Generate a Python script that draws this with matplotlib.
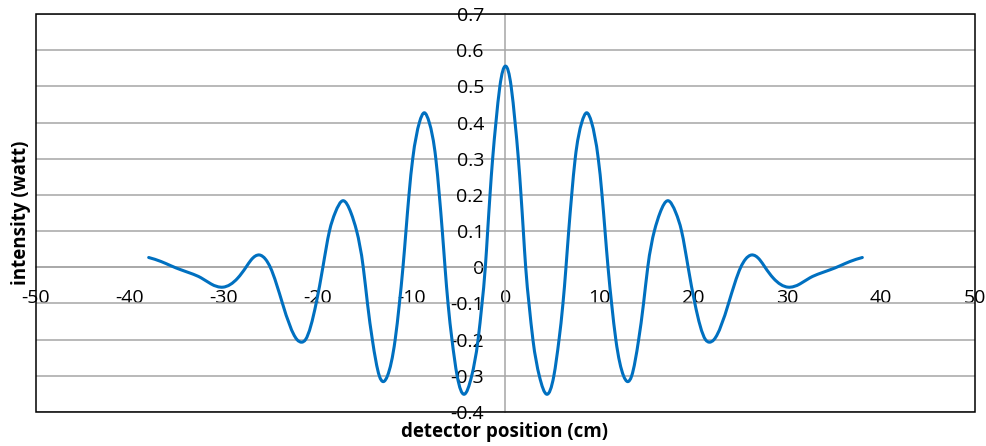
import numpy as np
import matplotlib
matplotlib.use("Agg")
import matplotlib.pyplot as plt
from matplotlib.path import Path
from matplotlib.patches import PathPatch, Rectangle

plt.rcParams["font.family"] = ["Open Sans", "DejaVu Sans"]
plt.rcParams["axes.unicode_minus"] = False

# detector position (cm) and measured intensity (watt)
positions = [
    -38.00, -36.69, -35.62, -34.56, -33.49, -32.43, -31.36, -30.10, -28.52, -27.64,
    -27.10, -26.20, -25.55, -25.05, -23.75, -22.20, -21.70, -21.30, -20.17, -19.45,
    -18.75, -18.15, -17.30, -16.45, -15.85, -15.15, -14.70, -14.18, -13.44, -13.00,
    -12.57, -11.75, -11.30, -10.92, -10.60, -10.28, -9.88, -9.17, -8.64, -8.12,
    -7.42, -7.05, -6.73, -6.44, -6.12, -5.70, -5.15, -4.40, -3.60, -2.92,
    -2.50, -2.15, -1.90, -1.65, -1.37, -1.02, -0.60,
    0.00,
    0.60, 1.02, 1.37, 1.65, 1.90, 2.15, 2.50, 2.92, 3.60, 4.40,
    5.15, 5.70, 6.12, 6.44, 6.73, 7.05, 7.42, 8.12, 8.64, 9.17,
    9.88, 10.28, 10.60, 10.92, 11.30, 11.75, 12.57, 13.00, 13.44, 14.18,
    14.70, 15.15, 15.85, 16.45, 17.30, 18.15, 18.75, 19.45, 20.17, 21.30,
    21.70, 22.20, 23.75, 25.05, 25.55, 26.20, 27.10, 27.64, 28.52, 30.10,
    31.36, 32.43, 33.49, 34.56, 35.62, 36.69, 38.00,
]
intensity = [
    0.027, 0.016, 0.004, -0.007, -0.017, -0.029, -0.046, -0.055, -0.030, 0.000,
    0.020, 0.034, 0.022, 0.000, -0.100, -0.200, -0.207, -0.200, -0.100, 0.000,
    0.100, 0.150, 0.184, 0.150, 0.100, 0.000, -0.100, -0.200, -0.300, -0.316,
    -0.300, -0.200, -0.100, 0.000, 0.100, 0.200, 0.300, 0.400, 0.427, 0.400,
    0.300, 0.200, 0.100, 0.000, -0.100, -0.200, -0.300, -0.351, -0.300, -0.200,
    -0.100, 0.000, 0.100, 0.200, 0.300, 0.400, 0.500,
    0.556,
    0.500, 0.400, 0.300, 0.200, 0.100, 0.000, -0.100, -0.200, -0.300, -0.351,
    -0.300, -0.200, -0.100, 0.000, 0.100, 0.200, 0.300, 0.400, 0.427, 0.400,
    0.300, 0.200, 0.100, 0.000, -0.100, -0.200, -0.300, -0.316, -0.300, -0.200,
    -0.100, 0.000, 0.100, 0.150, 0.184, 0.150, 0.100, 0.000, -0.100, -0.200,
    -0.207, -0.200, -0.100, 0.000, 0.022, 0.034, 0.020, 0.000, -0.030, -0.055,
    -0.046, -0.029, -0.017, -0.007, 0.004, 0.016, 0.027,
]

x_ticks = [-50, -40, -30, -20, -10, 0, 10, 20, 30, 40, 50]
x_tick_labels = ["-50", "-40", "-30", "-20", "-10", "0", "10", "20", "30", "40", "50"]
y_ticks = [-0.4, -0.3, -0.2, -0.1, 0.0, 0.1, 0.2, 0.3, 0.4, 0.5, 0.6, 0.7]
y_tick_labels = ["-0.4", "-0.3", "-0.2", "-0.1", "0", "0.1", "0.2", "0.3", "0.4", "0.5", "0.6", "0.7"]


def spline_slopes(x, y):
    """Knot slopes of the natural cubic spline through the points."""
    x = np.asarray(x, float)
    y = np.asarray(y, float)
    n = len(x)
    h = np.diff(x)
    d = np.diff(y) / h
    A = np.zeros((n, n))
    r = np.zeros(n)
    A[0, 0] = A[-1, -1] = 1.0
    for i in range(1, n - 1):
        A[i, i - 1] = h[i - 1]
        A[i, i] = 2 * (h[i - 1] + h[i])
        A[i, i + 1] = h[i]
        r[i] = 6 * (d[i] - d[i - 1])
    M = np.linalg.solve(A, r)
    m = np.empty(n)
    m[:-1] = d - h * (2 * M[:-1] + M[1:]) / 6
    m[-1] = d[-1] + h[-1] * (M[-2] + 2 * M[-1]) / 6
    return m


def smooth_path(x, y):
    """Cubic Bezier path through the data points (smoothed line)."""
    m = spline_slopes(x, y)
    verts = [(x[0], y[0])]
    codes = [Path.MOVETO]
    for i in range(len(x) - 1):
        h = x[i + 1] - x[i]
        verts += [
            (x[i] + h / 3, y[i] + m[i] * h / 3),
            (x[i + 1] - h / 3, y[i + 1] - m[i + 1] * h / 3),
            (x[i + 1], y[i + 1]),
        ]
        codes += [Path.CURVE4] * 3
    return Path(verts, codes)


W, H = 987, 446
fig = plt.figure(figsize=(W / 100, H / 100), dpi=100)
ax = fig.add_axes([36 / W, 34 / H, 939 / W, 398 / H])
ax.set_xlim(-50, 50)
ax.set_ylim(-0.4, 0.7)

grid_color = "#a6a6a6"
ax.set_xticks(x_ticks)
ax.set_xticklabels(x_tick_labels)
ax.set_yticks(y_ticks)
ax.set_yticklabels(y_tick_labels)
ax.tick_params(axis="both", length=0, labelsize=14, colors="black")
ax.tick_params(axis="x", pad=16)
ax.tick_params(axis="y", pad=15.5)

ax.yaxis.grid(True, color=grid_color, linewidth=1.1)
ax.set_axisbelow(True)

for side in ("left", "bottom"):
    ax.spines[side].set_position(("data", 0))
    ax.spines[side].set_color(grid_color)
    ax.spines[side].set_linewidth(1.1)
for side in ("top", "right"):
    ax.spines[side].set_visible(False)

ax.add_patch(Rectangle((0, 0), 1, 1, transform=ax.transAxes, fill=False,
                       edgecolor="black", linewidth=1.1, zorder=4, clip_on=False))

curve = PathPatch(smooth_path(positions, intensity), transform=ax.transData,
                  fill=False, edgecolor="#0070C0", linewidth=2.2,
                  capstyle="round", joinstyle="round", zorder=5)
ax.add_patch(curve)

fig.text(505 / W, 1 - 432 / H, "detector position (cm)", ha="center", va="center",
         fontsize=13.5, fontweight="bold")
fig.text(21 / W, 1 - 213 / H, "intensity (watt)", ha="center", va="center",
         rotation=90, fontsize=13.5, fontweight="bold")

fig.savefig("out.png", dpi=100)
